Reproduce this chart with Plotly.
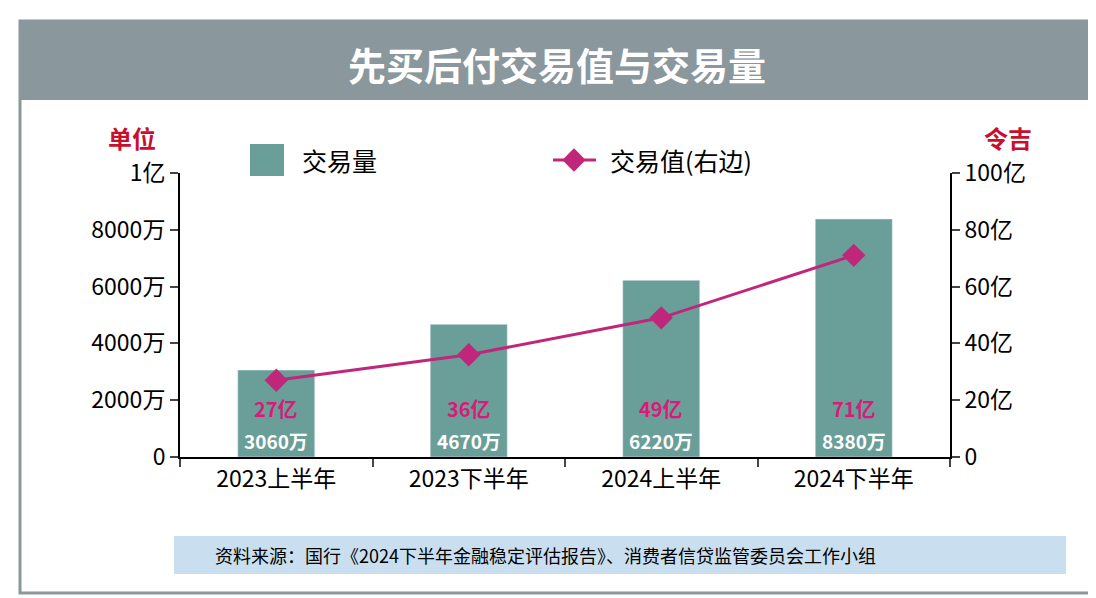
import plotly.graph_objects as go

categories = ["2023上半年", "2023下半年", "2024上半年", "2024下半年"]
volume_wan = [3060, 4670, 6220, 8380]          # 交易量 (万)
value_yi = [27, 36, 49, 71]                    # 交易值 (亿令吉)
left_tickvals = [0, 2000, 4000, 6000, 8000, 10000]
left_ticktext = ["0", "2000万", "4000万", "6000万", "8000万", "1亿"]
right_tickvals = [0, 20, 40, 60, 80, 100]
right_ticktext = ["0", "20亿", "40亿", "60亿", "80亿", "100亿"]

F = "Noto Sans CJK SC"
TEAL = "#6a9e98"
MAG = "#c0277a"
W, H = 1096, 598
def px(x): return x / W
def py(y): return 1 - y / H

fig = go.Figure()
fig.add_trace(go.Bar(x=categories, y=volume_wan, marker_color=TEAL, width=0.4, showlegend=False))
fig.add_trace(go.Scatter(x=categories, y=value_yi, yaxis="y2", mode="lines+markers",
                         line=dict(color=MAG, width=3),
                         marker=dict(symbol="diamond", size=18, color=MAG), showlegend=False))
for c, v, w in zip(categories, value_yi, volume_wan):
    fig.add_annotation(x=c, y=1720, yref="y", text=f"<b>{v}亿</b>", showarrow=False,
                       font=dict(family=F, size=20, color="#d81b7a"))
    fig.add_annotation(x=c, y=580, yref="y", text=f"<b>{w}万</b>", showarrow=False,
                       font=dict(family=F, size=19, color="white"))

shapes = [
    dict(type="rect", xref="paper", yref="paper", x0=px(12), x1=px(1086), y0=py(585), y1=py(13),
         line=dict(color="#8a979c", width=3), fillcolor="rgba(0,0,0,0)", layer="below"),
    dict(type="rect", xref="paper", yref="paper", x0=px(13), x1=px(1085), y0=py(92), y1=py(14),
         line=dict(width=0), fillcolor="#8a979c"),
    dict(type="rect", xref="paper", yref="paper", x0=px(166), x1=px(1058), y0=py(566), y1=py(528),
         line=dict(width=0), fillcolor="#c9dff0"),
    dict(type="rect", xref="paper", yref="paper", x0=px(242), x1=px(276), y0=py(168), y1=py(136),
         line=dict(width=0), fillcolor=TEAL),
    dict(type="line", xref="paper", yref="paper", x0=px(545), x1=px(588), y0=py(152), y1=py(152),
         line=dict(color=MAG, width=3)),
]
def ann(x, y, text, size, color="black", anchor="center"):
    fig.add_annotation(xref="paper", yref="paper", x=px(x), y=py(y), showarrow=False,
                       xanchor=anchor, yanchor="middle", text=text,
                       font=dict(family=F, size=size, color=color))
ann(549, 55, "<b>先买后付交易值与交易量</b>", 38, "white")
ann(124, 130, "<b>单位</b>", 24, "#c8102e")
ann(1000, 130, "<b>令吉</b>", 24, "#c8102e")
ann(292, 152, "交易量", 25, anchor="left")
ann(600, 152, "交易值(右边)", 25, anchor="left")
ann(205, 547, "资料来源：国行《2024下半年金融稳定评估报告》、消费者信贷监管委员会工作小组", 18, anchor="left")

fig.add_trace(go.Scatter(x=[px(566)], y=[py(152)], xaxis="x3", yaxis="y3", mode="markers",
                         marker=dict(symbol="diamond", size=18, color=MAG), showlegend=False))

ax = dict(showline=True, linecolor="black", linewidth=2, ticks="outside", ticklen=8, tickwidth=2,
          tickfont=dict(size=23), showgrid=False, zeroline=False, automargin=False)
fig.update_layout(
    width=W, height=H, margin=dict(l=0, r=0, t=0, b=0),
    paper_bgcolor="white", plot_bgcolor="rgba(0,0,0,0)", shapes=shapes,
    font=dict(family=F, color="black"),
    xaxis=dict(domain=[px(172), px(942)], tickson="boundaries", anchor="y", **ax),
    yaxis=dict(domain=[py(449), py(165)], range=[0, 10000], tickvals=left_tickvals,
               ticktext=left_ticktext, anchor="x", **ax),
    yaxis2=dict(range=[0, 100], tickvals=right_tickvals, ticktext=right_ticktext,
                overlaying="y", side="right", anchor="x", **ax),
    xaxis3=dict(domain=[0, 1], range=[0, 1], visible=False, anchor="y3"),
    yaxis3=dict(domain=[0, 1], range=[0, 1], visible=False, anchor="x3"),
)
fig.write_html("out.html")
